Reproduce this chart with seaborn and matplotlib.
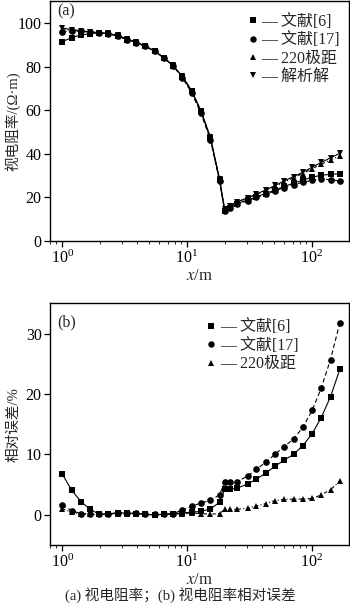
import numpy as np
import pandas as pd
import matplotlib
matplotlib.use("Agg")
import matplotlib.pyplot as plt
import seaborn as sns
from matplotlib.lines import Line2D

# ---------------- data ----------------
x_m = [1.0, 1.19, 1.41, 1.68, 1.98, 2.35, 2.79, 3.31, 3.93, 4.64, 5.51, 6.55,
       7.73, 9.18, 10.9, 12.9, 15.4, 18.2, 20.0, 21.9, 25.1, 30.6, 35.9, 42.6,
       50.6, 60.1, 71.3, 84.7, 100.6, 118.8, 141.0, 167.5]

rho_lit6 = [91.5, 93.4, 94.6, 95.2, 95.6, 95.2, 94.1, 92.5, 91.1, 89.4, 87.2, 84.0,
            80.4, 75.4, 68.7, 59.6, 47.1, 28.0, 14.0, 15.3, 17.2, 18.8, 20.3, 21.8,
            23.4, 25.1, 26.5, 28.0, 29.3, 30.2, 30.6, 30.9]
rho_lit17 = [96.2, 96.4, 96.4, 95.9, 95.6, 95.2, 94.1, 92.5, 91.0, 89.4, 87.2, 84.0,
             80.4, 75.0, 68.0, 58.7, 46.5, 27.7, 13.8, 15.1, 17.0, 18.5, 20.0, 21.4,
             23.0, 24.5, 25.8, 27.0, 27.9, 28.4, 28.2, 27.5]
rho_220 = [97.0, 96.7, 96.4, 95.9, 95.6, 95.2, 94.3, 92.7, 91.2, 89.4, 87.2, 84.1,
           80.6, 75.5, 68.9, 59.8, 47.5, 28.5, 14.5, 15.9, 17.9, 19.7, 21.4, 23.2,
           25.1, 27.1, 29.0, 31.0, 33.2, 35.3, 37.2, 39.2]
rho_anal = [97.8, 97.1, 96.6, 96.0, 95.7, 95.3, 94.4, 92.8, 91.3, 89.4, 87.2, 84.1,
            80.6, 75.6, 69.0, 59.9, 47.6, 28.6, 14.6, 16.0, 18.0, 19.8, 21.6, 23.4,
            25.5, 27.6, 29.6, 31.6, 33.9, 36.1, 38.2, 40.3]

err_lit6 = [6.78, 4.1, 2.2, 0.9, 0.1, 0.15, 0.3, 0.3, 0.2, 0.05, 0.0, 0.1,
            0.2, 0.3, 0.45, 0.55, 1.0, 2.05, 4.2, 4.2, 4.4, 5.1, 5.9, 6.9,
            8.05, 9.05, 10.0, 11.45, 13.45, 16.1, 19.55, 24.1]
err_lit17 = [1.65, 0.7, 0.2, 0.15, 0.1, 0.15, 0.35, 0.35, 0.3, 0.05, 0.05, 0.1,
             0.2, 0.8, 1.4, 1.95, 2.4, 3.3, 5.4, 5.4, 5.45, 6.45, 7.5, 8.7,
             10.0, 11.3, 12.55, 14.5, 17.3, 21.0, 25.7, 31.8]
err_220 = [1.0, 0.45, 0.15, 0.05, 0.05, 0.05, 0.1, 0.1, 0.1, 0.05, 0.0, 0.05,
           0.1, 0.2, 0.3, 0.2, 0.1, 0.2, 0.88, 0.88, 0.9, 1.1, 1.45, 1.85,
           2.35, 2.55, 2.6, 2.6, 2.7, 3.3, 4.15, 5.6]

labels = ["文献[6]", "文献[17]", "220极距", "解析解"]
markers = ["s", "o", "^", "v"]
styles = ["-", (0, (4, 2.5)), (0, (3, 2, 1, 2)), "-"]

# ---------------- style ----------------
sns.set_style("ticks")
plt.rcParams["font.family"] = ["Liberation Serif", "Noto Sans CJK SC"]
plt.rcParams["mathtext.fontset"] = "stix"
plt.rcParams["axes.unicode_minus"] = False
plt.rcParams["axes.linewidth"] = 1.0

fig = plt.figure(figsize=(3.5, 6.08), dpi=100)
ax1 = fig.add_axes([0.143, 0.6036, 0.854, 0.394])
ax2 = fig.add_axes([0.143, 0.1036, 0.854, 0.3975])


def draw(ax, series, labs):
    for ys, lab, mk, ls in zip(series, labs, markers, styles):
        df = pd.DataFrame({"x": x_m, "y": ys})
        sns.lineplot(data=df, x="x", y="y", ax=ax, color="black",
                     marker=mk, markersize=4.8, markeredgewidth=0,
                     linewidth=0.8, linestyle=ls, legend=False)
    handles = [Line2D([], [], color="black", marker=m, linestyle="none",
                      markersize=4.6, markeredgewidth=0) for m in markers[:len(labs)]]
    return handles


h1 = draw(ax1, [rho_lit6, rho_lit17, rho_220, rho_anal], labels)
h2 = draw(ax2, [err_lit6, err_lit17, err_220], labels[:3])

for ax in (ax1, ax2):
    ax.set_xscale("log")
    ax.set_xlim(0.8, 198)
    ax.tick_params(axis="both", which="major", direction="out", length=4,
                   width=0.9, labelsize=11.5, pad=2, colors="black")
    ax.tick_params(axis="x", which="minor", direction="out", length=2.2, width=0.7)
    for s in ax.spines.values():
        s.set_visible(True)
        s.set_color("black")
    ax.set_xlabel("$x$/m", fontsize=12, labelpad=1)

ax1.set_ylim(0, 110)
ax1.set_yticks([0, 20, 40, 60, 80, 100])
ax1.set_ylabel("视电阻率/(Ω·m)", fontsize=10.5)
ax1.yaxis.set_label_coords(-0.098, 0.5)
ax2.set_ylim(-5, 35)
ax2.set_yticks([0, 10, 20, 30])
ax2.set_ylabel("相对误差/%", fontsize=10.5)
ax2.yaxis.set_label_coords(-0.098, 0.5)

ax1.text(0.025, 0.99, "(a)", transform=ax1.transAxes, fontsize=11.5, va="top", ha="left")
ax2.text(0.025, 0.955, "(b)", transform=ax2.transAxes, fontsize=11.5, va="top", ha="left")

leg_kw = dict(frameon=False, handlelength=0.5, handletextpad=0.3,
              labelspacing=0.15, borderaxespad=0.15, fontsize=11.5)
ax1.legend(h1, ["— " + l for l in labels], loc="upper right",
           bbox_to_anchor=(1.0, 0.985), **leg_kw)
ax2.legend(h2, ["— " + l for l in labels[:3]], loc="upper right",
           bbox_to_anchor=(0.86, 0.97), **leg_kw)

fig.text(0.515, 0.021, "(a) 视电阻率；(b) 视电阻率相对误差", ha="center",
         va="center", fontsize=10.5)

fig.savefig("out.png", dpi=100, facecolor="white")
